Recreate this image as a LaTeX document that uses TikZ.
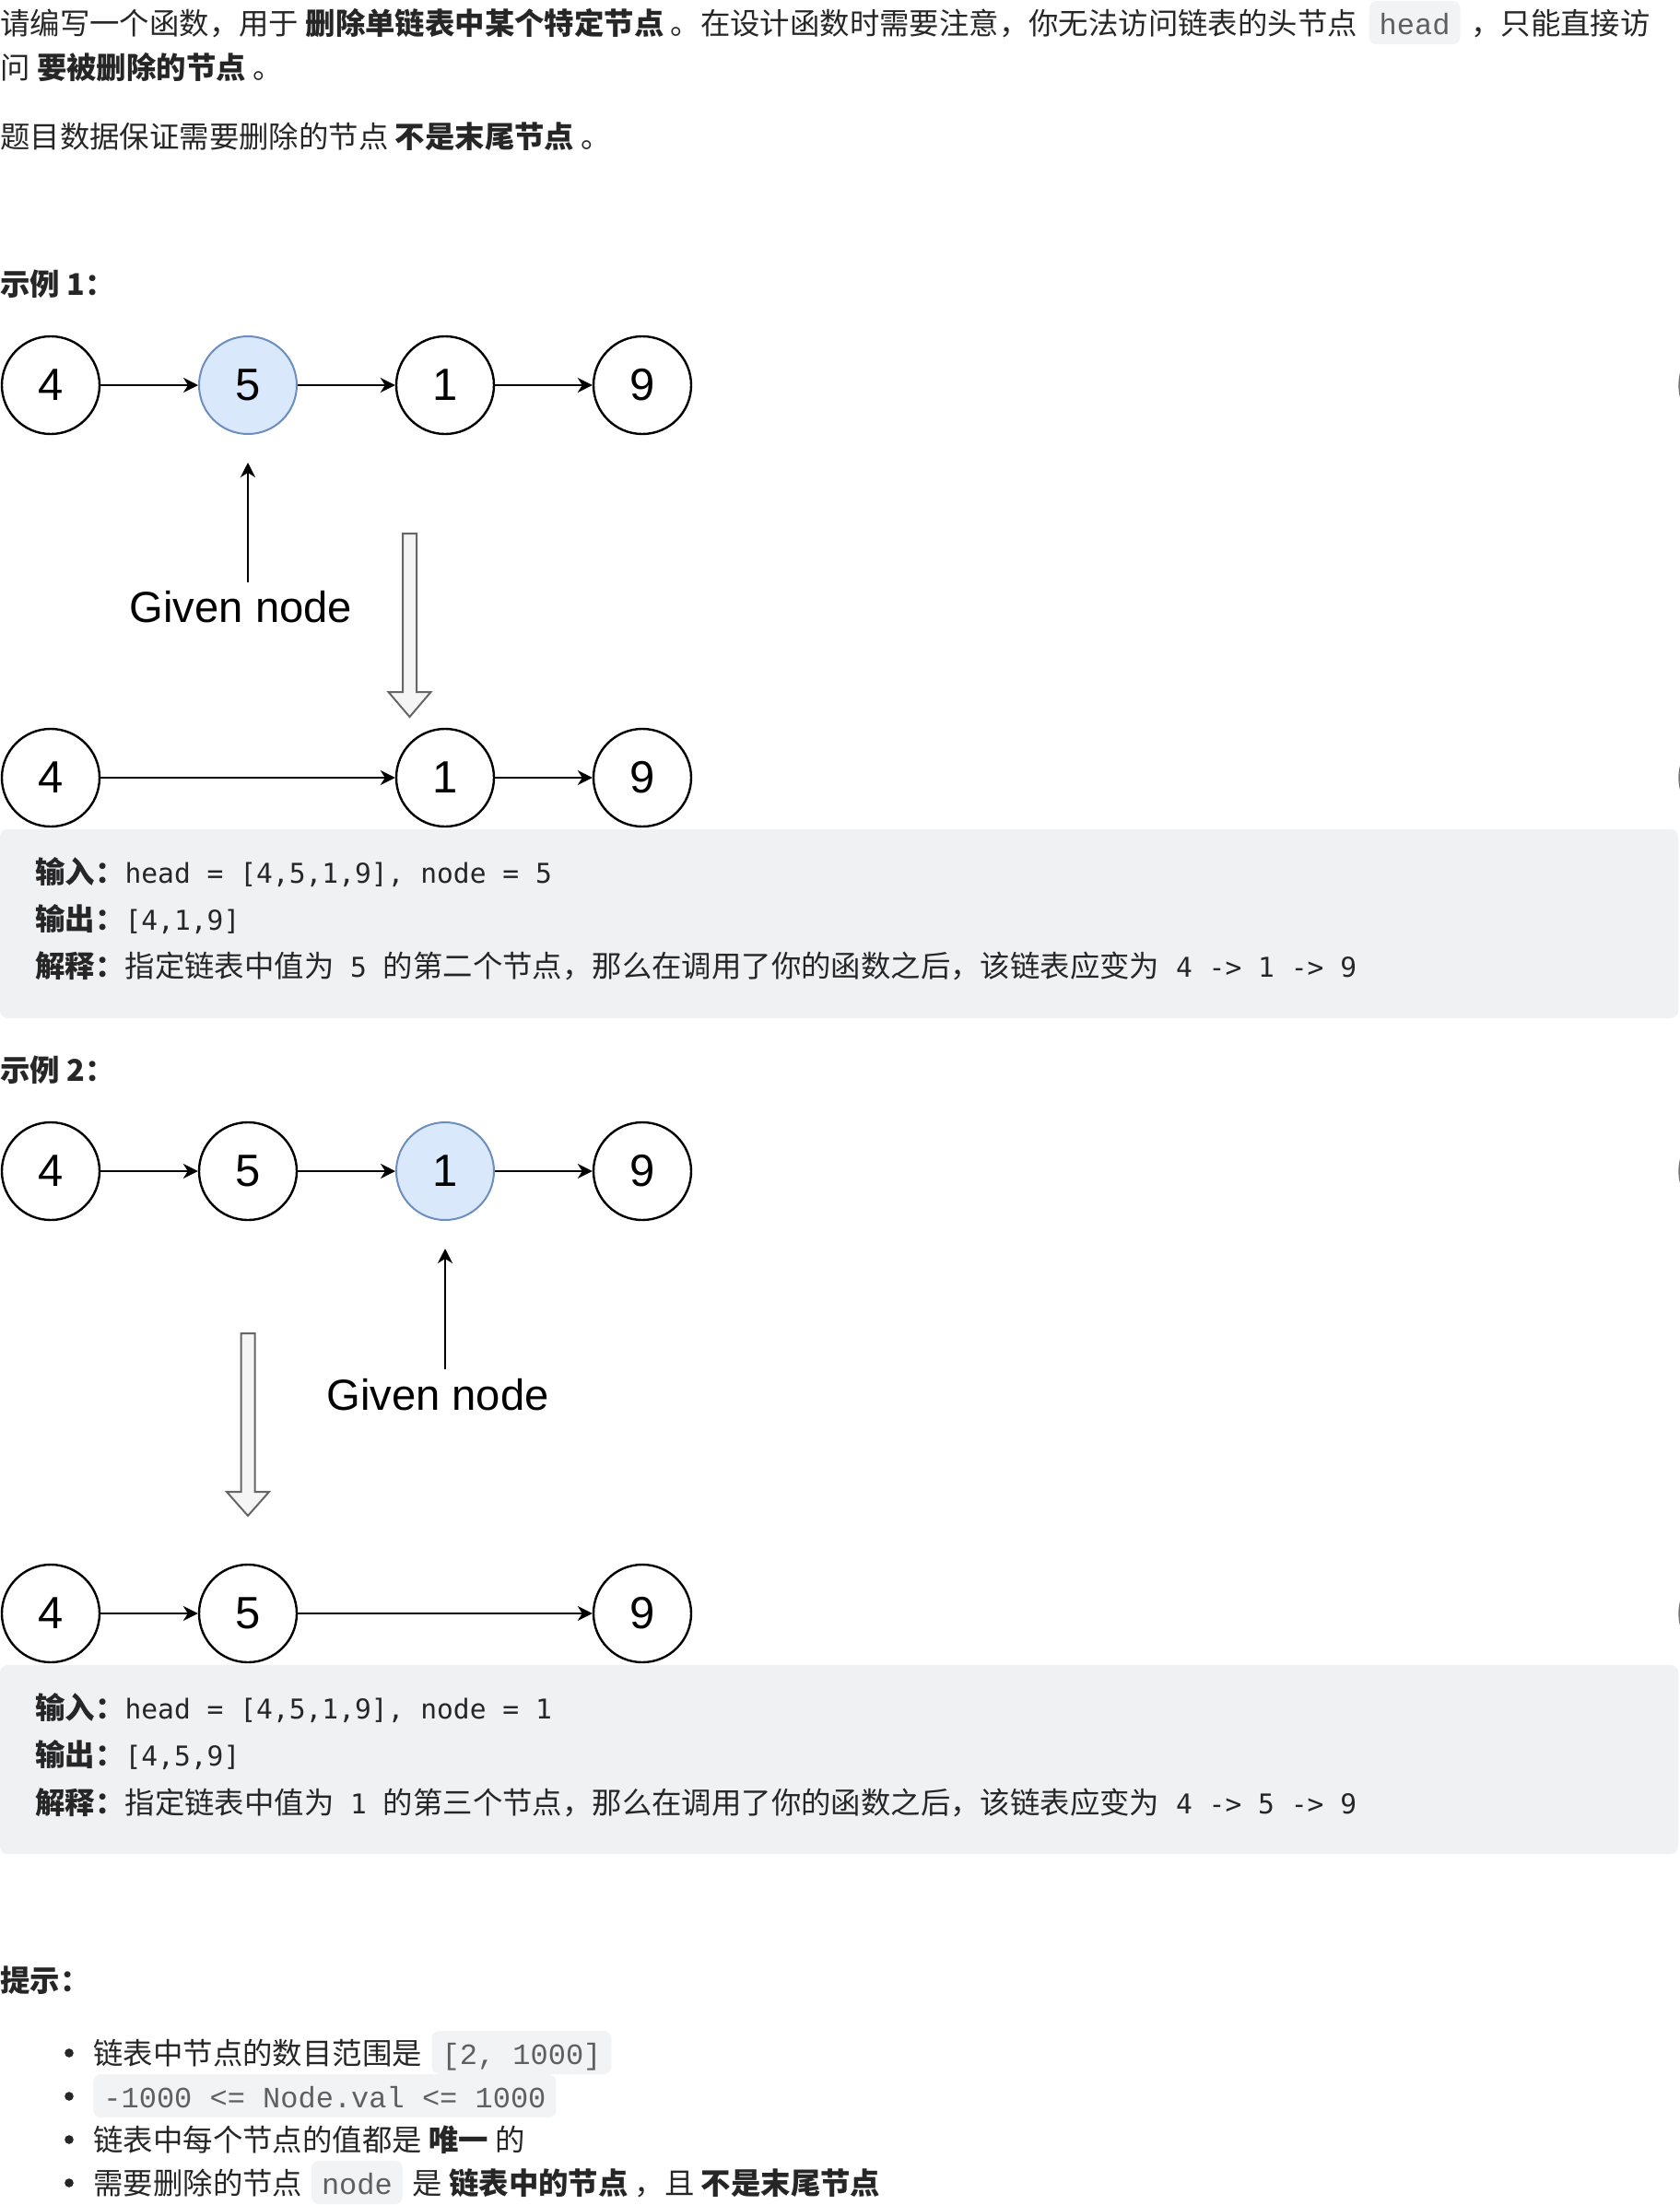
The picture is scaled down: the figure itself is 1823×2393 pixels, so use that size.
\documentclass[tikz,border=0pt]{standalone}
\usepackage{fontspec}
\setmainfont{Noto Sans CJK SC}
\newfontfamily\arialf{Liberation Sans}
\newfontfamily\boxmono{DejaVu Sans Mono}
\newfontfamily\chipmono{Liberation Mono}
\usetikzlibrary{arrows.meta}
\definecolor{bodytext}{RGB}{38,38,38}
\definecolor{chipbg}{RGB}{242,243,245}
\definecolor{chiptext}{RGB}{95,95,95}
\definecolor{codeboxbg}{RGB}{240,241,243}
\definecolor{nodeblue}{HTML}{DAE8FC}
\definecolor{nodeblueline}{HTML}{6C8EBF}
\definecolor{hollowfill}{HTML}{F5F5F5}
\definecolor{hollowline}{HTML}{666666}
\newcommand\bodyfnt{\fontsize{16.2pt}{20pt}\selectfont}
\newcommand\chipfnt{\chipmono\fontsize{16pt}{20pt}\selectfont}
\newcommand\bmono{\boxmono\fontsize{14.8pt}{18pt}\selectfont}
\newcommand\numfnt{\arialf\fontsize{24.5pt}{26pt}\selectfont}
\newcommand\givenfnt{\arialf\fontsize{23.6pt}{26pt}\selectfont}
\tikzset{
  body/.style={inner sep=0pt, anchor=base west, text=bodytext, font=\bodyfnt},
  chip/.style={fill=chipbg, rounded corners=4pt, inner xsep=5.5pt, inner ysep=0pt,
    text height=18pt, text depth=5.5pt, anchor=base west, text=chiptext, font=\chipfnt},
  llnode/.style={circle, draw=black, line width=1.2pt, minimum size=53pt, inner sep=0pt,
    font=\numfnt, fill=white},
  givennode/.style={llnode, fill=nodeblue, draw=nodeblueline, line width=1pt},
  conn/.style={line width=1pt, -{Stealth[length=8pt,width=8pt,inset=2.5pt]}},
  hollowarrow/.style={fill=hollowfill, draw=hollowline, line width=1pt, line join=miter},
  givenlabel/.style={inner sep=0pt, anchor=base, font=\givenfnt},
  codebox/.style={fill=codeboxbg, rounded corners=4pt},
  edgemark/.style={draw=black!55, line width=1.2pt},
  bulletdot/.style={circle, fill=bodytext, inner sep=0pt, minimum size=4.8pt}
}
\begin{document}
\begin{tikzpicture}[x=0.5pt,y=-0.5pt]
\useasboundingbox (0,0) rectangle (1823,2393);
\clip (0,0) rectangle (1823,2393);

% ---------- intro text ----------
\node[body] (l1a) at (0,37) {请编写一个函数，用于 \textbf{删除单链表中某个特定节点} 。在设计函数时需要注意，你无法访问链表的头节点};
\node[chip] (l1chip) at ([xshift=6pt]l1a.base east) {head};
\node[body] (l1c) at ([xshift=5.5pt]l1chip.base east) {，只能直接访};
\node[body] (l2) at (0,85) {问 \textbf{要被删除的节点} 。};
\node[body] (l3) at (0,160) {题目数据保证需要删除的节点 \textbf{不是末尾节点} 。};

% ---------- example 1 ----------
\node[body] (ex1) at (0,320) {\textbf{示例 1：}};

\node[llnode] (a1) at (55,418) {4};
\node[givennode] (a2) at (269,418) {5};
\node[llnode] (a3) at (483,418) {1};
\node[llnode] (a4) at (697,418) {9};
\draw[conn] (a1) -- (a2);
\draw[conn] (a2) -- (a3);
\draw[conn] (a3) -- (a4);

\node[givenlabel] (g1) at (261.5,675) {Given node};
\coordinate (g1from) at (269,632);
\coordinate (g1to) at (269,502);
\draw[conn] (g1from) -- (g1to);

\draw[hollowarrow] (437,579) -- (452,579) -- (452,751) -- (467.5,751) -- (444.5,778)
  -- (421.5,751) -- (437,751) -- cycle;

\node[llnode] (b1) at (55,844) {4};
\node[llnode] (b3) at (483,844) {1};
\node[llnode] (b4) at (697,844) {9};
\draw[conn] (b1) -- (b3);
\draw[conn] (b3) -- (b4);

\fill[codebox] (0,900) rectangle (1821,1105);
\node[body] (e1a) at (38,958) {\textbf{输入：}{\bmono head = [4,5,1,9], node = 5}};
\node[body] (e1b) at (38,1009) {\textbf{输出：}{\bmono [4,1,9]}};
\node[body] (e1c) at (38,1060) {\textbf{解释：}指定链表中值为{\bmono\ 5\ }的第二个节点，那么在调用了你的函数之后，该链表应变为{\bmono\ 4 -> 1 -> 9}};

% ---------- example 2 ----------
\node[body] (ex2) at (0,1173) {\textbf{示例 2：}};

\node[llnode] (c1) at (55,1271) {4};
\node[llnode] (c2) at (269,1271) {5};
\node[givennode] (c3) at (483,1271) {1};
\node[llnode] (c4) at (697,1271) {9};
\draw[conn] (c1) -- (c2);
\draw[conn] (c2) -- (c3);
\draw[conn] (c3) -- (c4);

\node[givenlabel] (g2) at (475,1530) {Given node};
\coordinate (g2from) at (483,1486);
\coordinate (g2to) at (483,1355);
\draw[conn] (g2from) -- (g2to);

\draw[hollowarrow] (261.5,1447) -- (276.5,1447) -- (276.5,1619) -- (292,1619) -- (269,1645)
  -- (246,1619) -- (261.5,1619) -- cycle;

\node[llnode] (d1) at (55,1751) {4};
\node[llnode] (d2) at (269,1751) {5};
\node[llnode] (d4) at (697,1751) {9};
\draw[conn] (d1) -- (d2);
\draw[conn] (d2) -- (d4);

\fill[codebox] (0,1807) rectangle (1821,2012);
\node[body] (e2a) at (38,1865) {\textbf{输入：}{\bmono head = [4,5,1,9], node = 1}};
\node[body] (e2b) at (38,1916) {\textbf{输出：}{\bmono [4,5,9]}};
\node[body] (e2c) at (38,1968) {\textbf{解释：}指定链表中值为{\bmono\ 1\ }的第三个节点，那么在调用了你的函数之后，该链表应变为{\bmono\ 4 -> 5 -> 9}};

% ---------- hints ----------
\node[body] (hint) at (0,2161) {\textbf{提示：}};

\node[bulletdot] (p1) at (75,2228) {};
\node[body] (h1a) at (101,2240) {链表中节点的数目范围是};
\node[chip] (h1chip) at ([xshift=5pt]h1a.base east) {[2, 1000]};

\node[bulletdot] (p2) at (75,2275) {};
\node[chip] (h2chip) at (101,2287) {-1000 <= Node.val <= 1000};

\node[bulletdot] (p3) at (75,2322) {};
\node[body] (h3) at (101,2334) {链表中每个节点的值都是 \textbf{唯一} 的};

\node[bulletdot] (p4) at (75,2369) {};
\node[body] (h4a) at (101,2381) {需要删除的节点};
\node[chip] (h4chip) at ([xshift=4.5pt]h4a.base east) {node};
\node[body] (h4c) at ([xshift=5pt]h4chip.base east) {是 \textbf{链表中的节点} ，且 \textbf{不是末尾节点}};

% ---------- clipped circle edges at the right border ----------
\draw[edgemark] (1875.5,418) circle[radius=53];
\draw[edgemark] (1875.5,844) circle[radius=53];
\draw[edgemark] (1875.5,1271) circle[radius=53];
\draw[edgemark] (1875.5,1751) circle[radius=53];
\end{tikzpicture}
\end{document}
